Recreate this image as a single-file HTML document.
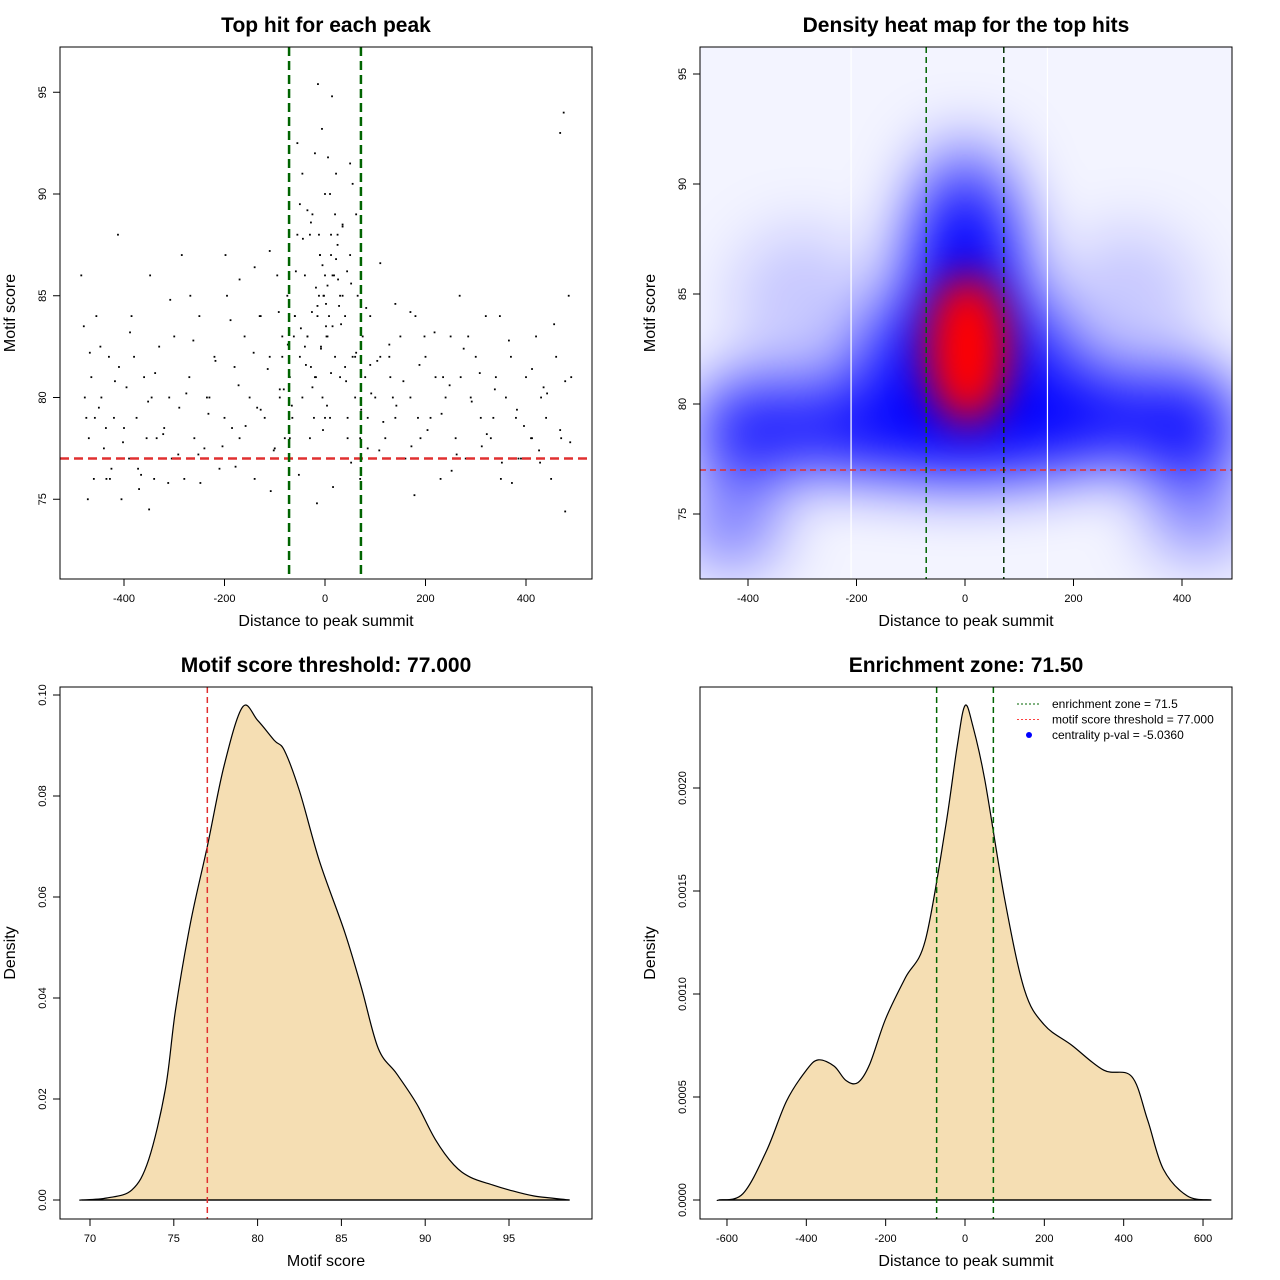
<!DOCTYPE html>
<html><head><meta charset="utf-8">
<style>
html,body{margin:0;padding:0;background:#fff;}
svg{display:block;font-family:"Liberation Sans",Arial,sans-serif;}
</style></head>
<body>
<svg id="c" width="1280" height="1280" xmlns="http://www.w3.org/2000/svg">
<defs>
<clipPath id="clip2"><rect x="700" y="47" width="532" height="532"/></clipPath>
<filter id="blur1" x="-50%" y="-50%" width="200%" height="200%"><feGaussianBlur stdDeviation="32"/></filter>
<filter id="blur2" x="-50%" y="-50%" width="200%" height="200%"><feGaussianBlur stdDeviation="20"/></filter>
</defs>
</svg>
<script>
// ---- Panel 1 scatter data (estimated) ----
const scatterX = [-480,-470,-465,-460,-455,-450,-445,-440,-430,-425,-420,-410,-405,-400,-395,-390,-380,-375,-370,-360,-355,-350,-345,-340,-330,-320,-310,-305,-300,-290,-280,-270,-260,-250,-240,-230,-220,-210,-200,-195,-190,-180,-170,-160,-150,-140,-130,-120,-110,-100,-95,-90,-85,-80,-75,-70,-65,-60,-55,-50,-45,-40,-35,-30,-25,-20,-15,-10,-5,0,5,10,15,20,25,30,35,40,45,50,55,60,65,70,75,80,85,90,95,100,110,120,130,140,150,160,170,180,190,200,210,220,230,240,250,260,270,280,290,300,310,320,330,340,350,360,370,380,390,400,410,420,430,440,450,460,470,480,485,490,-475,-435,-385,-335,-285,-235,-185,-135,-85,-45,-12,12,45,85,135,185,235,285,335,385,435,475,-20,20,0,10,-10,30,-30,60,-60,5,-5,15,-15,40,-40,25,-25,50,-50,35,-35,8,-8,18,-18,-2,2,55,-55,70,-70,28,-28,12,-12,0,3,-3,
-485,-472,-458,-447,-436,-418,-402,-388,-366,-352,-338,-322,-308,-292,-276,-262,-248,-232,-218,-204,-188,-172,-158,-142,-128,-114,-102,-92,-82,-74,-66,-58,-48,-38,-28,-18,-8,2,12,22,32,42,52,62,72,82,92,104,116,128,142,156,172,188,204,218,232,248,262,276,292,308,322,338,352,366,382,396,412,426,442,456,468,478,488,-468,-412,-348,-268,-198,-128,-62,-22,22,62,128,198,268,348,412,468,-478,-428,-372,-312,-252,-178,-108,-52,-16,16,52,108,178,252,312,372,428,478,-140,140,-170,170,-110,110,-90,90,-35,35,-6,6,-44,44,-26,26,-14,14,-4,4];
const scatterY = [83.5,78,81,76,84,79.5,80,77.5,82,76.5,79,81.5,75,78.5,80.5,77,82,79,75.5,81,78,74.5,80,76,82.5,78.5,80,77,83,79.5,76,81,78,84,77.5,80,82,76.5,79,85,77,81.5,78,83,80,76,84,79,82,77.5,86,80,83,78,85,81,79,84,88,82,80,86,83,78,89,81,84,87,80,90,83,79,86,82,88,81,85,84,79,87,82,80,85,78,83,81,79,84,77,80,82,78,81,79,83,77,80,84,78,82,79,81,76,80,83,78,81,77,80,82,79,84,78,81,76,80,82,79,77,81,78,83,80,79,76,82,78,77,85,81,79,76,84,78,87,80,78.5,79.5,82,91,85,88,78,77.5,80,79,81,83,79,77,80.5,94,92,89,86,90,87,85,88,82,84,85.5,86.5,83.5,84.5,81.5,82.5,87.5,80.5,91.5,89.5,88.5,83,84,82.5,86,81,85,83.5,90.5,92.5,76,78,84.5,81.5,87,88,79,83,85,86,
75,79,82.5,78.5,80.8,77.8,83.2,76.2,79.8,81.2,78.2,84.8,77.2,80.2,82.8,75.8,79.2,81.8,77.6,83.8,80.6,78.6,82.2,79.4,81.4,77.4,84.2,80.4,82.6,79.6,86.2,83.4,81.6,88.6,85.4,82.4,84.6,81.2,86.8,83.6,80.8,85.6,82.2,79.4,84.4,80.2,81.8,78.8,82.6,79.6,80.8,77.6,81.6,78.4,83.2,79.2,80.6,77.2,82.4,79.8,81.2,78.2,80.4,76.8,82.8,79.4,78.6,81.4,77.4,80.2,83.6,78.4,80.8,77.8,82.2,88,86,85,87,84,83,79,91,89,82,83,85,84,78,93,80,76,76.5,75.8,77.2,76.6,75.4,76.2,74.8,75.6,76.8,77.4,75.2,76.4,77.6,75.8,76.8,74.4,86.4,84.6,85.8,84.2,87.2,86.6,80.4,81.6,89.2,88.4,93.2,91.8,87.8,86.2,84.2,85.8,95.4,94.8,78.4,79.6];
// ---- Panel 3 density (motif score) ----
const scoreX = [69.5,71,72.5,73.5,74.5,75.1,76,77,78,79.1,80,81,81.6,82.5,83.7,85.2,86.2,87.2,88.3,89.5,90.6,91.7,92.7,94,95,96.5,98.6];
const scoreD = [0,0.0004,0.002,0.008,0.022,0.0376,0.055,0.070,0.086,0.0976,0.095,0.091,0.089,0.081,0.067,0.053,0.042,0.030,0.025,0.019,0.012,0.007,0.0045,0.003,0.002,0.0008,0];
// ---- Panel 4 density (distance) ----
const distX = [-620,-560,-500,-450,-400,-370,-330,-300,-270,-240,-200,-150,-100,-50,-20,0,20,50,100,150,200,270,350,420,460,500,560,620];
const distD = [0,0.00003,0.00024,0.00048,0.00063,0.00068,0.00065,0.00058,0.00057,0.00066,0.00088,0.00108,0.00126,0.0018,0.0022,0.0024,0.0023,0.00204,0.00146,0.00102,0.00085,0.00075,0.00063,0.0006,0.00039,0.00015,0.00002,0];
// ---- Panel 2 heatmap blobs: [x, y, spread-x, spread-y, intensity] ----
const blobX = [0,0,0,-390,400,-220,220,-430,430,0,0,-300,300,-130,130];
const blobY = [82,79,86,78.8,79,79,79.5,74.5,75,89,78,84.5,84.5,81.5,81.5];
const blobSX = [140,200,110,110,110,110,110,90,90,90,300,130,130,70,70];
const blobSY = [4.5,2.5,4,2.3,2.5,2.2,2.2,2,2,3,1.5,3.5,3.5,3,3];
const blobW = [1,1,1,0.9,0.95,0.85,0.95,0.5,0.45,0.55,0.75,0.18,0.18,0.8,0.8];

const NS="http://www.w3.org/2000/svg";
const svg=document.getElementById('c');
function mk(tag,attrs,parent){const e=document.createElementNS(NS,tag);for(const k in attrs)e.setAttribute(k,attrs[k]);(parent||svg).appendChild(e);return e;}
function txt(x,y,s,size,opts){opts=opts||{};const e=mk('text',{x:x,y:y,'font-size':size,'text-anchor':opts.anchor||'middle',fill:'#000','font-weight':opts.bold?'bold':'normal'});if(opts.rot)e.setAttribute('transform','rotate(-90 '+x+' '+y+')');e.textContent=s;return e;}
function smooth(P){let d='M'+P[0][0].toFixed(1)+','+P[0][1].toFixed(1);
  for(let i=0;i<P.length-1;i++){const p0=P[Math.max(0,i-1)],p1=P[i],p2=P[i+1],p3=P[Math.min(P.length-1,i+2)];
    const c1=[p1[0]+(p2[0]-p0[0])/6,p1[1]+(p2[1]-p0[1])/6],c2=[p2[0]-(p3[0]-p1[0])/6,p2[1]-(p3[1]-p1[1])/6];
    d+=' C'+c1[0].toFixed(1)+','+c1[1].toFixed(1)+' '+c2[0].toFixed(1)+','+c2[1].toFixed(1)+' '+p2[0].toFixed(1)+','+p2[1].toFixed(1);}
  return d+' Z';}

function panel(x0,y0,title,xlab,ylab,xs,xticks,ys,yticks,yfmt,name){
  const t=txt(x0+266,y0-15,title,21,{bold:true});
  
  
  const xl=txt(x0+266,y0+579,xlab,16);
  
  
  const yl=txt(x0-45,y0+266,ylab,16,{rot:true});
  
  
  const xa=mk('g',{});
  
  
  const xp=xticks.map(xs);
  mk('line',{x1:xp[0],x2:xp[xp.length-1],y1:y0+532,y2:y0+532,stroke:'#000'},xa);
  xticks.forEach(v=>{const p=xs(v);mk('line',{x1:p,x2:p,y1:y0+532,y2:y0+539,stroke:'#000'},xa);const e=txt(p,y0+555,String(v),11);xa.appendChild(e);});
  const ya=mk('g',{});
  
  
  const yp=yticks.map(ys);
  mk('line',{x1:x0,x2:x0,y1:yp[0],y2:yp[yp.length-1],stroke:'#000'},ya);
  yticks.forEach(v=>{const p=ys(v);mk('line',{x1:x0,x2:x0-7,y1:p,y2:p,stroke:'#000'},ya);const e=txt(x0-14,p,yfmt(v),11,{rot:true});ya.appendChild(e);});
}
function box(x0,y0,name){const r=mk('rect',{x:x0,y:y0,width:532,height:532,fill:'none',stroke:'#000'});}

// ===== Panel 1 =====
const x1=v=>325+v*0.5025, y1=v=>397.5-(v-80)*20.35;
panel(60,47,'Top hit for each peak','Distance to peak summit','Motif score',x1,[-400,-200,0,200,400],y1,[75,80,85,90,95],v=>String(v),'scatter-panel');
const pts=mk('g',{});


for(let i=0;i<Math.min(scatterX.length,scatterY.length);i++){const c=mk('rect',{x:x1(scatterX[i])-0.9,y:y1(scatterY[i])-0.9,width:1.8,height:1.8,fill:'#000'},pts);}
let l=mk('line',{x1:60,x2:592,y1:y1(77),y2:y1(77),stroke:'#e03030','stroke-width':2.5,'stroke-dasharray':'9,5'});

[-71.5,71.5].forEach(v=>{const e=mk('line',{x1:x1(v),x2:x1(v),y1:47,y2:579,stroke:'#006400','stroke-width':2.5,'stroke-dasharray':'9,5'});});
box(60,47,'scatter-panel');

// ===== Panel 2 =====
const x2=v=>965+v*0.5425, y2=v=>404-(v-80)*22;
panel(700,47,'Density heat map for the top hits','Distance to peak summit','Motif score',x2,[-400,-200,0,200,400],y2,[75,80,85,90,95],v=>String(v),'heatmap-panel');
const hm=mk('g',{'clip-path':'url(#clip2)'});


mk('rect',{x:700,y:47,width:532,height:532,fill:'#fff'},hm);
mk('rect',{x:700,y:47,width:532,height:532,fill:'#e8eaff',opacity:0.5},hm);
const bg=mk('g',{filter:'url(#blur1)'},hm);
for(let i=0;i<blobX.length;i++){const e=mk('ellipse',{cx:x2(blobX[i]),cy:y2(blobY[i]),rx:blobSX[i]*0.5425,ry:blobSY[i]*22,fill:'#0000ff',opacity:blobW[i]},bg);}
const rg=mk('g',{filter:'url(#blur2)'},hm);
let r=mk('ellipse',{cx:x2(5),cy:y2(82.5),rx:42,ry:75,fill:'#ff0000'},rg);
[-210,152].forEach(v=>mk('line',{x1:x2(v),x2:x2(v),y1:47,y2:579,stroke:'#fff','stroke-width':1.2},hm));
l=mk('line',{x1:700,x2:1232,y1:y2(77),y2:y2(77),stroke:'#e03030','stroke-width':1.5,'stroke-dasharray':'6,4'});

[[-71.5,'#006400'],[71.5,'#003000']].forEach(a=>{const e=mk('line',{x1:x2(a[0]),x2:x2(a[0]),y1:47,y2:579,stroke:a[1],'stroke-width':1.5,'stroke-dasharray':'6,4'});});
box(700,47,'heatmap-panel');

// ===== Panel 3 =====
const x3=v=>90+(v-70)*16.76, y3=v=>1200-v*5050;
panel(60,687,'Motif score threshold: 77.000','Motif score','Density',x3,[70,75,80,85,90,95],y3,[0,0.02,0.04,0.06,0.08,0.1],v=>v.toFixed(2),'score-density-panel');
let P=[[x3(scoreX[0]),y3(0)]];for(let i=0;i<scoreX.length;i++)P.push([x3(scoreX[i]),y3(scoreD[i])]);
let p=mk('path',{d:smooth(P),fill:'#f5deb3',stroke:'#000','stroke-width':1.2,'stroke-linejoin':'round'});

mk('line',{x1:x3(scoreX[0]),x2:x3(scoreX[scoreX.length-1]),y1:y3(0),y2:y3(0),stroke:'#000','stroke-width':1.2});
l=mk('line',{x1:x3(77),x2:x3(77),y1:687,y2:1219,stroke:'#e03030','stroke-width':1.5,'stroke-dasharray':'6,4'});

box(60,687,'score-density-panel');

// ===== Panel 4 =====
const x4=v=>965+v*0.3967, y4=v=>1200-v*206000;
panel(700,687,'Enrichment zone: 71.50','Distance to peak summit','Density',x4,[-600,-400,-200,0,200,400,600],y4,[0,0.0005,0.001,0.0015,0.002],v=>v.toFixed(4),'distance-density-panel');
P=[[x4(distX[0]),y4(0)]];for(let i=0;i<distX.length;i++)P.push([x4(distX[i]),y4(distD[i])]);
p=mk('path',{d:smooth(P),fill:'#f5deb3',stroke:'#000','stroke-width':1.2,'stroke-linejoin':'round'});

mk('line',{x1:x4(distX[0]),x2:x4(distX[distX.length-1]),y1:y4(0),y2:y4(0),stroke:'#000','stroke-width':1.2});
[-71.5,71.5].forEach(v=>{const e=mk('line',{x1:x4(v),x2:x4(v),y1:687,y2:1219,stroke:'#006400','stroke-width':1.5,'stroke-dasharray':'6,4'});});
const lg=mk('g',{});


const le=[['enrichment zone = 71.5','#006400','line'],['motif score threshold = 77.000','#ff4040','line'],['centrality p-val = -5.0360','#0000ff','dot']];
le.forEach((e,i)=>{const yy=704+i*15.5;
  if(e[2]==='line')mk('line',{x1:1017,x2:1041,y1:yy,y2:yy,stroke:e[1],'stroke-dasharray':'2,2'},lg);
  else mk('circle',{cx:1029,cy:yy,r:3,fill:e[1]},lg);
  const t=txt(1052,yy+4,e[0],12,{anchor:'start'});lg.appendChild(t);
  });
box(700,687,'distance-density-panel');
</script>
</body></html>
